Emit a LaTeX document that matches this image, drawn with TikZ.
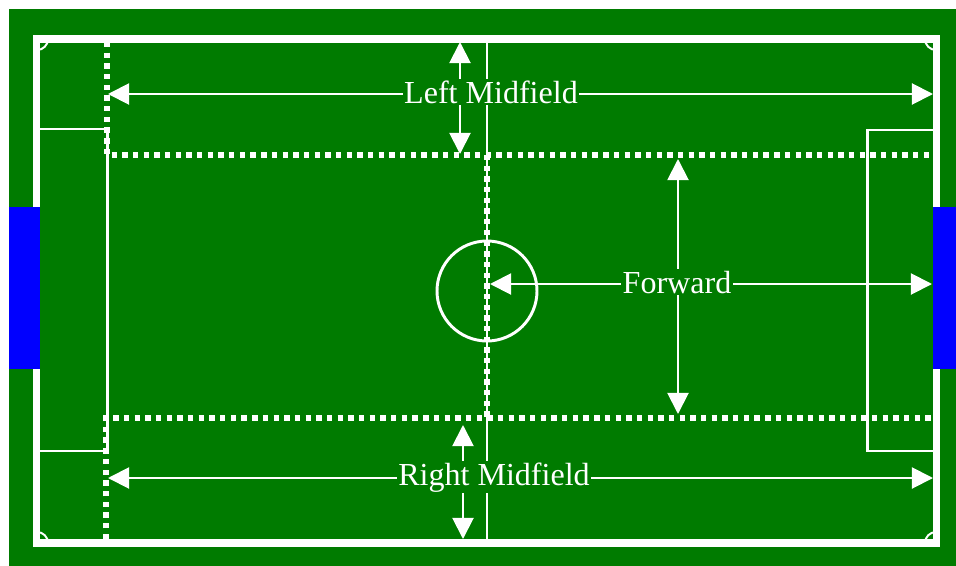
\documentclass[tikz,border=0pt]{standalone}
\usepackage{fontspec}
\setmainfont{Liberation Serif}
\usetikzlibrary{arrows.meta}
\definecolor{pitch}{RGB}{0,123,0}
\definecolor{goal}{RGB}{0,0,255}

\begin{document}
\begin{tikzpicture}[x=0.025cm, y=-0.025cm,
    fieldline/.style={white, line width=5pt},
    thinline/.style={white, line width=2.1pt},
    zone/.style={white, line width=3.8pt, dash pattern=on 3.8pt off 3.8pt},
    span/.style={white, line width=1.4pt, {Triangle[length=15pt,width=15pt]}-{Triangle[length=15pt,width=15pt]}},
    zonelabel/.style={fill=pitch, text=white, inner sep=1pt, anchor=base, font=\fontsize{22.8}{26}\selectfont}]
            \useasboundingbox (0,0) rectangle (956,566);
            \fill[white] (0,0) rectangle (956,566);
            % Grass
            \fill[pitch] (9,9) rectangle (956,566);

            % Field lines
            \draw[fieldline] (36.5,39) rectangle (936.5,543);
            \draw[thinline] (487,39) -- (487,543);
            \draw[thinline] (487,291) circle[radius=50];
            \draw[thinline] (37,129) -- (107.5,129) -- (107.5,451) -- (37,451);
            \draw[thinline] (936,130) -- (867.5,130) -- (867.5,451) -- (936,451);

            % Corner arcs
            \draw[white, line width=1.4pt] (48,39) arc[start angle=0, end angle=90, radius=11];
            \draw[white, line width=1.4pt] (925,39) arc[start angle=180, end angle=90, radius=11];
            \draw[white, line width=1.4pt] (48,543) arc[start angle=0, end angle=-90, radius=11];
            \draw[white, line width=1.4pt] (925,543) arc[start angle=180, end angle=270, radius=11];

            % Zone borders
            \draw[zone] (107,42) -- (107,155) -- (933,155);
            \draw[zone] (106,539) -- (106,418) -- (933,418);
            \draw[zone] (487,155) -- (487,418);

            % Goals
            \fill[goal] (9,207) rectangle (40,369);
            \fill[goal] (933,207) rectangle (956,369);

            % Arrow ends
            \coordinate (lmW) at (108,94);
            \coordinate (lmE) at (933,94);
            \coordinate (lmN) at (460,42);
            \coordinate (lmS) at (460,154);
            \coordinate (rmW) at (108,478);
            \coordinate (rmE) at (933,478);
            \coordinate (rmN) at (463,425);
            \coordinate (rmS) at (463,539);
            \coordinate (fwW) at (490,284);
            \coordinate (fwE) at (932,284);
            \coordinate (fwN) at (678,159);
            \coordinate (fwS) at (678,414);

            % Zone arrows
            \draw[span] (lmW) -- (lmE);
            \draw[span] (lmN) -- (lmS);
            \draw[span] (rmW) -- (rmE);
            \draw[span] (rmN) -- (rmS);
            \draw[span] (fwW) -- (fwE);
            \draw[span] (fwN) -- (fwS);

            % Labels
            \node[zonelabel] (leftmid) at (491,103) {Left Midfield};
            \node[zonelabel] (rightmid) at (494,485) {Right Midfield};
            \node[zonelabel] (forward) at (677,293) {Forward};
\end{tikzpicture}
\end{document}
